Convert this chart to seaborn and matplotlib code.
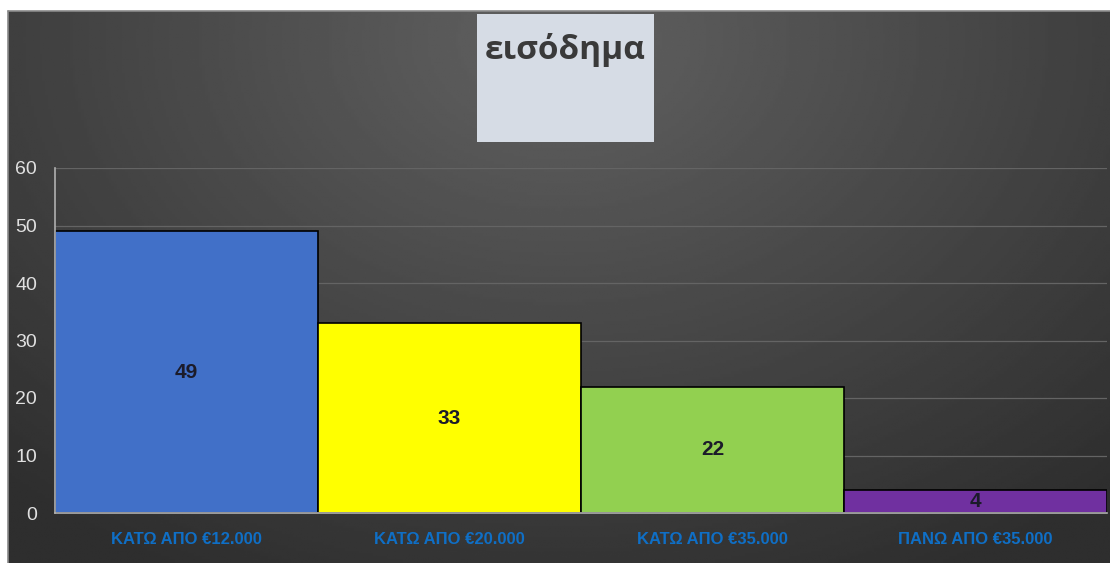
import numpy as np
import pandas as pd
import matplotlib
matplotlib.use('Agg')
import matplotlib.pyplot as plt
import seaborn as sns
from matplotlib.patches import Rectangle

# data
categories = ['ΚΑΤΩ ΑΠΟ €12.000', 'ΚΑΤΩ ΑΠΟ €20.000', 'ΚΑΤΩ ΑΠΟ €35.000', 'ΠΑΝΩ ΑΠΟ €35.000']
values = [49, 33, 22, 4]
bar_colors = ['#4170c8', '#ffff00', '#92d050', '#7030a0']
title = 'εισόδημα'
y_ticks = [0, 10, 20, 30, 40, 50, 60]

sns.set_theme(style='white')
plt.rcParams['font.family'] = ['Liberation Sans', 'DejaVu Sans']

df = pd.DataFrame({'cat': categories, 'val': values})

W, H = 1110, 563
fig = plt.figure(figsize=(W / 100, H / 100), dpi=100)
fig.patch.set_facecolor('white')

# dark gradient panel behind the chart
bg = fig.add_axes([8 / W, 0, 1 - 8 / W, 1 - 11 / H], zorder=0)
yy, xx = np.mgrid[0:1:200j, 0:1:400j]
dist = np.sqrt(((xx - 0.5) / 0.75) ** 2 + ((yy - 0.05) / 1.1) ** 2)
shade = np.clip(1 - dist, 0, 1)
bg.imshow(0.18 + 0.2 * shade, cmap='gray', vmin=0, vmax=1, aspect='auto',
          extent=[0, 1, 1, 0])
bg.set_axis_off()
fig.add_artist(plt.Line2D([8 / W, 8 / W], [0, 1 - 11 / H], color='#8a8a8a', lw=1.2))
fig.add_artist(plt.Line2D([8 / W, 1], [1 - 11 / H, 1 - 11 / H], color='#8a8a8a', lw=1.2))

ax = fig.add_axes([55 / W, 1 - 513 / H, 1052 / W, 345 / H], zorder=2)
ax.patch.set_alpha(0)

sns.barplot(data=df, x='cat', y='val', hue='cat', palette=bar_colors, width=1.0,
            saturation=1, edgecolor='black', linewidth=1.2, legend=False, ax=ax,
            zorder=3)

ax.set_ylim(0, 60)
ax.set_xlim(-0.5, 3.5)
ax.set_yticks(y_ticks)
ax.yaxis.grid(True, color='#646464', lw=0.9)
ax.set_axisbelow(True)
ax.set_xlabel('')
ax.set_ylabel('')
for s in ['top', 'right']:
    ax.spines[s].set_visible(False)
for s in ['left', 'bottom']:
    ax.spines[s].set_color('#b0b0b0')
    ax.spines[s].set_linewidth(1.2)
    ax.spines[s].set_zorder(4)
ax.tick_params(axis='y', colors='#e0e0e0', labelsize=14, length=0, pad=13)
ax.tick_params(axis='x', colors='#0f6fc6', labelsize=12, length=0, pad=14)
for lbl in ax.get_xticklabels():
    lbl.set_fontweight('bold')

for i, v in enumerate(values):
    ax.text(i, v / 2, str(v), ha='center', va='center', fontsize=15,
            fontweight='bold', color='#1b1b2a', zorder=5)

# title box
fig.add_artist(Rectangle((477 / W, 1 - 142 / H), 177 / W, 128 / H,
                         transform=fig.transFigure, facecolor='#d6dce5',
                         edgecolor='none', zorder=3))
fig.text(565.5 / W, 1 - 50 / H, title, ha='center', va='center', fontsize=24,
         fontweight='bold', color='#3a3a3a', family=['Open Sans', 'DejaVu Sans'],
         zorder=4)

fig.savefig('out.png', dpi=100)
